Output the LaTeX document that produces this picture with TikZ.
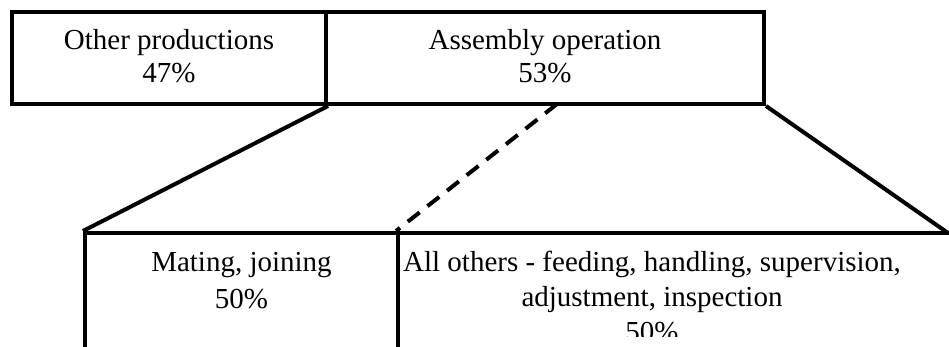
\documentclass[tikz,border=0pt]{standalone}
\usepackage{fontspec}
\setmainfont{Liberation Serif}
\usetikzlibrary{calc}
\tikzset{
  box/.style={draw, line width=2pt, rectangle, inner sep=0pt, anchor=center},
  lbl/.style={inner sep=0pt, anchor=base, font=\fontsize{14.5}{17}\selectfont},
  link/.style={line width=2pt},
  dlink/.style={line width=2pt, dash pattern=on 7.5pt off 5pt},
}
\begin{document}
\begin{tikzpicture}[x=0.5pt, y=-0.5pt]
\useasboundingbox (0,0) rectangle (949,347);
\clip (0,0) rectangle (949,347);
\fill[white] (0,0) rectangle (949,347);
% top boxes
\node[box, minimum width=314*0.5pt, minimum height=92*0.5pt] (other) at (169,58) {};
\node[box, minimum width=438*0.5pt, minimum height=92*0.5pt] (assembly) at (545,58) {};
% bottom boxes (extend past the lower and right edges)
\node[box, minimum width=313*0.5pt, minimum height=200*0.5pt] (mating) at (241.5,333) {};
\node[box, minimum width=620*0.5pt, minimum height=200*0.5pt] (allothers) at (708,333) {};
\coordinate (rc) at (948,233);
\coordinate (ds) at (557,104);
% texts
\node[lbl] (t1) at (169,50) {Other productions};
\node[lbl] (t2) at (169,83) {47\%};
\node[lbl] (t3) at (545,50) {Assembly operation};
\node[lbl] (t4) at (545,83) {53\%};
\node[lbl] (t5) at (241.5,272) {Mating, joining};
\node[lbl] (t6) at (241.5,309) {50\%};
\node[lbl] (t7) at (652,272) {All others - feeding, handling, supervision,};
\node[lbl] (t8) at (652,307) {adjustment, inspection};
\begin{scope}
\clip (0,0) rectangle (949,337);
\node[lbl] (t9) at (652,342) {50\%};
\end{scope}
% connectors
\draw[link] (other.south east) -- (mating.north west);
\draw[dlink] (ds) -- (allothers.north west);
\draw[link] (assembly.south east) -- (rc);
\end{tikzpicture}
\end{document}
